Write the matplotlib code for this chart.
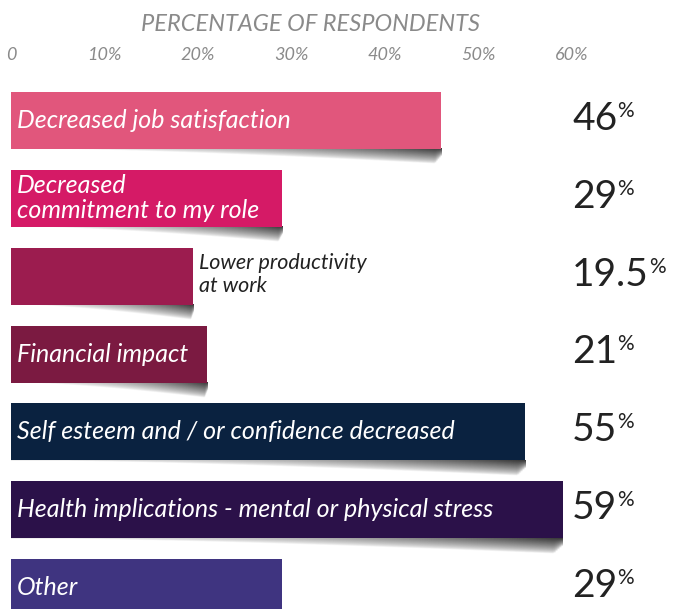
import numpy as np
import matplotlib
matplotlib.use("Agg")
import matplotlib.pyplot as plt
from matplotlib.colors import to_rgb

# ---------------- data ----------------
categories = [
    "Decreased job satisfaction",
    "Decreased\ncommitment to my role",
    "Lower productivity\nat work",
    "Financial impact",
    "Self esteem and / or confidence decreased",
    "Health implications - mental or physical stress",
    "Other",
]
values = [46, 29, 19.5, 21, 55, 59, 29]
value_labels = ["46", "29", "19.5", "21", "55", "59", "29"]
tick_values = [0, 10, 20, 30, 40, 50, 60]
tick_labels = ["0", "10%", "20%", "30%", "40%", "50%", "60%"]
title = "PERCENTAGE OF RESPONDENTS"

# ---------------- style ----------------
bar_colors = ["#e1567c", "#d51a66", "#9c1c4f", "#7b1a41", "#0a2240", "#2b1149", "#3f3480"]
label_inside = [True, True, False, True, True, True, True]
FONT = ["Lato", "DejaVu Sans"]
GRAY = "#8a8a8a"
DARK = "#222222"
BAR_H = 0.731

plt.rcParams["font.family"] = FONT

fig = plt.figure(figsize=(6.74, 6.09), dpi=100)
ax = fig.add_axes([0, 0, 1, 1])
ax.set_axis_off()

XLIM = (-11 / 9.35, (674 - 11) / 9.35)
YLIM = ((609 - 120.2) / 77.94, -120.2 / 77.94)

ypos = np.arange(len(categories))
ax.barh(ypos, values, height=BAR_H, color=bar_colors, zorder=3)

# shadows under the bars
shadow_rgb = np.array(to_rgb("#2a2a2a"))
SH = 0.20
nx, ny = 300, 40
for i, v in enumerate(values):
    u = np.linspace(0, 1, nx)[None, :]
    w = np.linspace(0, 1, ny)[:, None]
    thick = np.clip((u - 0.04) / 0.96, 0, 1) ** 1.4
    thick = thick * (1 - 0.5 * np.clip((u - 0.985) / 0.015, 0, 1))
    inside = np.clip(1 - w / np.maximum(thick, 1e-6), 0, 1)
    dark = 0.18 + 0.77 * u ** 2.2
    alpha = dark * inside ** 0.7
    img = np.zeros((ny, nx, 4))
    img[..., :3] = shadow_rgb
    img[..., 3] = alpha
    y0 = i + BAR_H / 2
    ax.imshow(img, extent=(0, v, y0 + SH, y0), origin="upper",
              aspect="auto", interpolation="bilinear", zorder=2)

ax.set_xlim(*XLIM)
ax.set_ylim(*YLIM)

# title and ticks
ax.text(32.0, -1.234, title, ha="center", va="center", fontsize=17,
        style="italic", color=GRAY)
for tv, tl in zip(tick_values, tick_labels):
    ax.text(tv, -0.837, tl, ha="center", va="center", fontsize=13,
            style="italic", color=GRAY)

# bar labels
for i, (cat, v, inside) in enumerate(zip(categories, values, label_inside)):
    if inside:
        ax.annotate(cat, xy=(0, i), xytext=(4, 0), textcoords="offset points",
                    ha="left", va="center", fontsize=18, style="italic",
                    color="white", linespacing=1.12, zorder=5)
    else:
        ax.annotate(cat, xy=(v, i), xytext=(4, 1), textcoords="offset points",
                    ha="left", va="center", fontsize=15.5, style="italic",
                    color=DARK, linespacing=1.2, zorder=5)

# value labels with superscript %
for i, lab in enumerate(value_labels):
    t = ax.text(60.0, i - 0.02, lab, ha="left", va="center", fontsize=28,
                color=DARK)
    ax.annotate("%", xy=(1, 1), xycoords=t, xytext=(0, 0),
                textcoords="offset points", ha="left", va="top",
                fontsize=15, color=DARK)

fig.savefig("out.png", dpi=100)
